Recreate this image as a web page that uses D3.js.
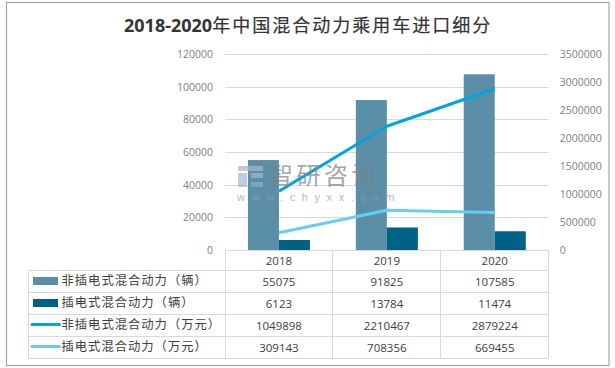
<!DOCTYPE html>
<html>
<head>
<meta charset="utf-8">
<script src="https://cdn.jsdelivr.net/npm/d3@7"></script>
<style>
html,body{margin:0;padding:0;background:#fff;}
svg{display:block;}
text{font-family:"Open Sans","Noto Sans CJK SC",sans-serif;}
</style>
</head>
<body>
<div id="chart"></div>
<script>
var years = ["2018", "2019", "2020"];
var seriesNames = ["非插电式混合动力（辆）", "插电式混合动力（辆）", "非插电式混合动力（万元）", "插电式混合动力（万元）"];
var nonPluginUnits = [55075, 91825, 107585];
var pluginUnits = [6123, 13784, 11474];
var nonPluginValue = [1049898, 2210467, 2879224];
var pluginValue = [309143, 708356, 669455];
var leftTicks = [0, 20000, 40000, 60000, 80000, 100000, 120000];
var rightTicks = [0, 500000, 1000000, 1500000, 2000000, 2500000, 3000000, 3500000];
var colors = ["#5b8fa8", "#006186", "#00a5e0", "#66cdf5"];

var svg = d3.select("#chart").append("svg").attr("width", 615).attr("height", 368);

// outer frame
svg.append("rect").attr("x", 6.5).attr("y", 2.5).attr("width", 602.5).attr("height", 363)
	.attr("fill", "#fff").attr("stroke", "#a6a6a6").attr("stroke-width", 1.2);

var title = svg.append("text").attr("x", 124).attr("y", 32).attr("fill", "#333");
title.append("tspan").attr("font-size", 18).attr("font-weight", "bold")
	.style("font-family", "'Open Sans',sans-serif").text("2018-2020");
title.append("tspan").attr("font-size", 18).attr("letter-spacing", 2)
	.attr("stroke", "#333").attr("stroke-width", 0.2)
	.style("font-family", "'Noto Sans CJK SC',sans-serif").text("年中国混合动力乘用车进口细分");

var plotLeft = 225, plotRight = 548.7, plotTop = 54, plotBottom = 250;

var x = d3.scaleBand().domain(years).range([plotLeft, plotRight]).paddingInner(0.425).paddingOuter(0.2125);
var xInner = d3.scaleBand().domain([0, 1]).range([0, x.bandwidth()]);
var xPoint = function(d){ return x(d) + x.bandwidth() / 2; };
var yLeft = d3.scaleLinear().domain([0, 120000]).range([plotBottom, plotTop]);
var yRight = d3.scaleLinear().domain([0, 3500000]).range([plotBottom, plotTop]);

// gridlines
svg.append("g").selectAll("line")
	.data(leftTicks.slice(1))
	.enter()
	.append("line")
	.attr("x1", plotLeft).attr("x2", plotRight)
	.attr("y1", function(d){ return Math.round(yLeft(d)) + 0.5; })
	.attr("y2", function(d){ return Math.round(yLeft(d)) + 0.5; })
	.attr("stroke", "#d9d9d9").attr("stroke-width", 1);

// axes, tick labels only
var axisLeft = d3.axisLeft(yLeft).tickValues(leftTicks).tickSize(0).tickPadding(12).tickFormat(d3.format("d"));
var gLeft = svg.append("g").attr("transform", "translate(" + plotLeft + ",0)").call(axisLeft);
var axisRight = d3.axisRight(yRight).tickValues(rightTicks).tickSize(0).tickPadding(11).tickFormat(d3.format("d"));
var gRight = svg.append("g").attr("transform", "translate(" + plotRight + ",0)").call(axisRight);
[gLeft, gRight].forEach(function(g){
	g.select(".domain").remove();
	g.selectAll("text").attr("font-size", 10.5).attr("fill", "#7f7f7f")
		.style("font-family", "'Open Sans',sans-serif");
});

// bars
[nonPluginUnits, pluginUnits].forEach(function(values, i){
	svg.append("g").selectAll("rect")
		.data(values)
		.enter()
		.append("rect")
		.attr("x", function(d, j){ return x(years[j]) + xInner(i); })
		.attr("y", function(d){ return yLeft(d); })
		.attr("width", xInner.bandwidth())
		.attr("height", function(d){ return plotBottom - yLeft(d); })
		.attr("fill", colors[i]);
});

// lines
var line = d3.line()
	.x(function(d, j){ return xPoint(years[j]); })
	.y(function(d){ return yRight(d); });
[nonPluginValue, pluginValue].forEach(function(values, i){
	svg.append("path").datum(values)
		.attr("d", line)
		.attr("fill", "none")
		.attr("stroke", colors[i + 2])
		.attr("stroke-width", 3)
		.attr("stroke-linejoin", "round");
});

// watermark
var wm = svg.append("g").attr("opacity", 0.7);
wm.append("text").attr("x", 269).attr("y", 184).attr("font-size", 24).attr("letter-spacing", 3.5)
	.attr("fill", "#7d8288").style("font-family", "'Noto Sans CJK SC',sans-serif").text("智研咨询");
wm.append("text").attr("x", 237).attr("y", 201).attr("font-size", 11).attr("letter-spacing", 6.6)
	.attr("fill", "#9a9ea4").style("font-family", "'Liberation Sans',sans-serif").text("www.chyxx.com");
wm.append("rect").attr("x", 238).attr("y", 166).attr("width", 25).attr("height", 5).attr("fill", "#a9b5d0");
wm.append("rect").attr("x", 238).attr("y", 173).attr("width", 9).attr("height", 14).attr("fill", "#a9b5d0");
wm.append("rect").attr("x", 251).attr("y", 173).attr("width", 12).attr("height", 5).attr("fill", "#a9b5d0");
wm.append("rect").attr("x", 251).attr("y", 182).attr("width", 12).attr("height", 5).attr("fill", "#7fb0d8");

// data table
var rowLines = [270.5, 292.5, 314.5, 336.5, 358.5];
var colLines = [225.5, 332.5, 440.5, 548.5];
var table = svg.append("g").attr("stroke", "#d9d9d9").attr("stroke-width", 1);
table.append("line").attr("x1", plotLeft).attr("x2", plotRight).attr("y1", 250.5).attr("y2", 250.5);
table.selectAll(".row").data(rowLines).enter().append("line").attr("class", "row")
	.attr("x1", 28.5).attr("x2", plotRight)
	.attr("y1", function(d){ return d; }).attr("y2", function(d){ return d; });
table.selectAll(".col").data(colLines).enter().append("line").attr("class", "col")
	.attr("x1", function(d){ return d; }).attr("x2", function(d){ return d; })
	.attr("y1", 250).attr("y2", 358.5);
table.append("line").attr("x1", 28.5).attr("x2", 28.5).attr("y1", 270.5).attr("y2", 358.5);

svg.append("g").selectAll("text").data(years).enter().append("text")
	.attr("x", xPoint).attr("y", 265).attr("text-anchor", "middle")
	.attr("font-size", 11.5).attr("fill", "#404040").text(function(d){ return d; });

var rows = [nonPluginUnits, pluginUnits, nonPluginValue, pluginValue];
rows.forEach(function(values, i){
	var midY = (rowLines[i] + rowLines[i + 1]) / 2;
	svg.append("g").selectAll("text").data(values).enter().append("text")
		.attr("x", function(d, j){ return xPoint(years[j]); })
		.attr("y", midY + 4)
		.attr("text-anchor", "middle")
		.attr("font-size", 11.5).attr("fill", "#404040")
		.text(function(d){ return d; });
	svg.append("text").attr("x", 61.5).attr("y", midY + 3.5)
		.attr("font-size", 12.3).attr("letter-spacing", 1).attr("fill", "#404040")
		.style("font-family", "'Noto Sans CJK SC',sans-serif")
		.text(seriesNames[i]);
	if(i < 2){
		svg.append("rect").attr("x", 33).attr("y", midY - 4.5).attr("width", 25).attr("height", 8).attr("fill", colors[i]);
	}else{
		svg.append("line").attr("x1", 32).attr("x2", 59.5).attr("y1", midY - 1).attr("y2", midY - 1)
			.attr("stroke", colors[i]).attr("stroke-width", 3).attr("stroke-linecap", "round");
	}
});
</script>
</body>
</html>
